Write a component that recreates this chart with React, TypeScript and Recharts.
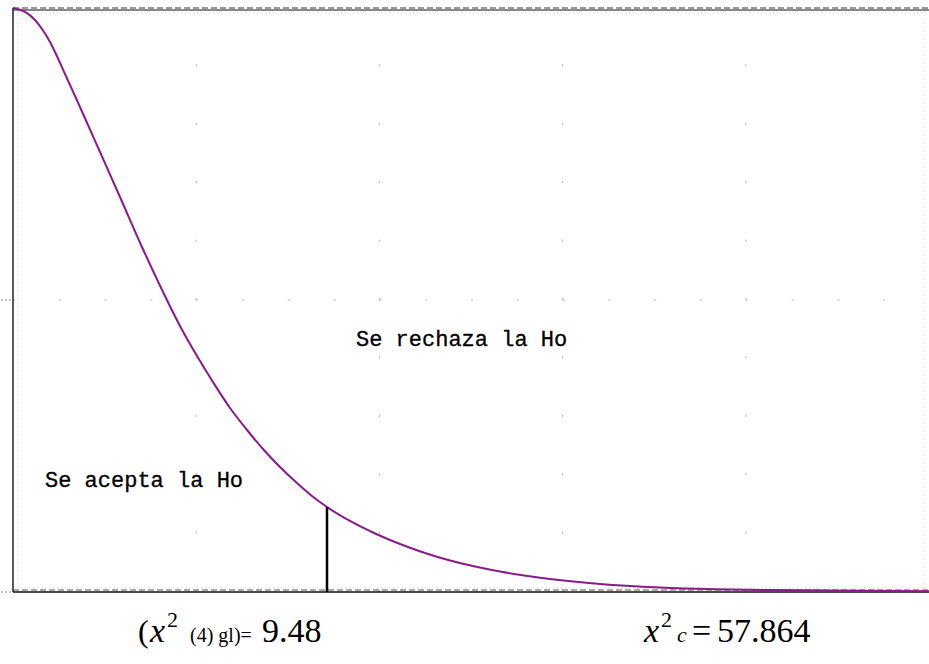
import React from 'react';
import { LineChart, Line, XAxis, YAxis, ReferenceLine } from 'recharts';

const xValues = [0, 1.31, 2.4, 3.17, 4.04, 5.68, 7.31, 9.5, 11.68, 14.08, 16.38, 18.23, 20.09, 21.83, 23.69, 25.55, 27.29, 29.15, 31.0, 32.64, 34.28, 36.79, 39.52, 42.25, 44.98, 47.71, 50.44, 53.17, 58.62, 64.08, 70.63, 76.64, 82.64, 88.76, 100];
const densityValues = [1.0, 0.9932, 0.9795, 0.964, 0.9418, 0.887, 0.8305, 0.7534, 0.6764, 0.5908, 0.5137, 0.4555, 0.4041, 0.3596, 0.3151, 0.2774, 0.2449, 0.214, 0.1866, 0.1644, 0.1455, 0.1216, 0.1002, 0.0822, 0.0668, 0.0539, 0.0437, 0.0351, 0.0223, 0.0137, 0.0077, 0.0048, 0.0034, 0.0026, 0.0014];
const criticalX = 34.28;
const criticalY = 0.1455;
const gridX = [20, 40, 60, 80];
const gridY = [0.5];
const yTicks = [0, 0.5];

const data = xValues.map((x, i) => ({ x, y: densityValues[i] }));

const W = 929;
const H = 664;

export default function App() {
  return (
    <div style={{ position: 'absolute', left: 0, top: 0, width: W, height: H, background: '#fff' }}>
      <LineChart width={W} height={H} data={data} margin={{ top: 8, right: 0, bottom: 72, left: 0 }}>
        <XAxis type="number" dataKey="x" domain={[0, 100]} hide />
        <YAxis
          type="number"
          domain={[0, 1]}
          ticks={yTicks}
          width={13}
          tickSize={12}
          tick={() => <g />}
          axisLine={{ stroke: '#222', strokeWidth: 1.5 }}
          tickLine={{ stroke: '#888', strokeDasharray: '2 2' }}
        />
        <ReferenceLine x={0.55} stroke="#d4d4d4" strokeDasharray="1 3" />
        <ReferenceLine x={99.45} stroke="#d4d4d4" strokeDasharray="1 3" />
        <ReferenceLine y={0.9914} stroke="#d4d4d4" strokeDasharray="1 3" />
        <ReferenceLine y={0.00685} stroke="#d4d4d4" strokeDasharray="1 3" />
        {gridX.map((gx) => (
          <ReferenceLine key={'gx' + gx} x={gx} stroke="#b0b0b0" strokeDasharray="2 56.4" />
        ))}
        {gridY.map((gy) => (
          <ReferenceLine key={'gy' + gy} y={gy} stroke="#b0b0b0" strokeDasharray="2 43.8" />
        ))}
        <ReferenceLine y={1} stroke="#777" strokeWidth={1.5} strokeDasharray="6 3" />
        <ReferenceLine y={0.99658} stroke="#111" strokeWidth={1.2} />
        <ReferenceLine y={0} stroke="#111" strokeWidth={1.5} />
        <ReferenceLine y={0.0034} stroke="#555" strokeWidth={1.2} strokeDasharray="6 3" />
        <Line
          type="monotone"
          dataKey="y"
          stroke="#8b1a89"
          strokeWidth={2}
          dot={false}
          isAnimationActive={false}
        />
        <ReferenceLine
          segment={[{ x: criticalX, y: 0 }, { x: criticalX, y: criticalY }]}
          stroke="#000"
          strokeWidth={2.5}
        />
      </LineChart>
      <svg width={W} height={H} style={{ position: 'absolute', left: 0, top: 0, pointerEvents: 'none' }}>
        <text x={356} y={346} fontFamily="Liberation Mono, monospace" fontSize={22} fill="#000" stroke="#000" strokeWidth={0.3}>Se rechaza la Ho</text>
        <text x={45} y={487} fontFamily="Liberation Mono, monospace" fontSize={22} fill="#000" stroke="#000" strokeWidth={0.3}>Se acepta la Ho</text>
        <text y={642} fontFamily="Liberation Serif, serif" fill="#000">
          <tspan x={138} fontSize={32}>(</tspan>
          <tspan x={150} fontSize={34} fontStyle="italic">x</tspan>
          <tspan x={167} dy={-15} fontSize={22}>2</tspan>
          <tspan x={190} dy={15} fontSize={20}>(4) gl)=</tspan>
          <tspan x={262} fontSize={34}>9.48</tspan>
        </text>
        <text y={642} fontFamily="Liberation Serif, serif" fill="#000">
          <tspan x={644} fontSize={34} fontStyle="italic">x</tspan>
          <tspan x={661} dy={-15} fontSize={22}>2</tspan>
          <tspan x={677} dy={15} fontSize={22} fontStyle="italic">c</tspan>
          <tspan x={692} fontSize={34}>=</tspan>
          <tspan x={717} fontSize={34}>57.864</tspan>
        </text>
      </svg>
    </div>
  );
}
